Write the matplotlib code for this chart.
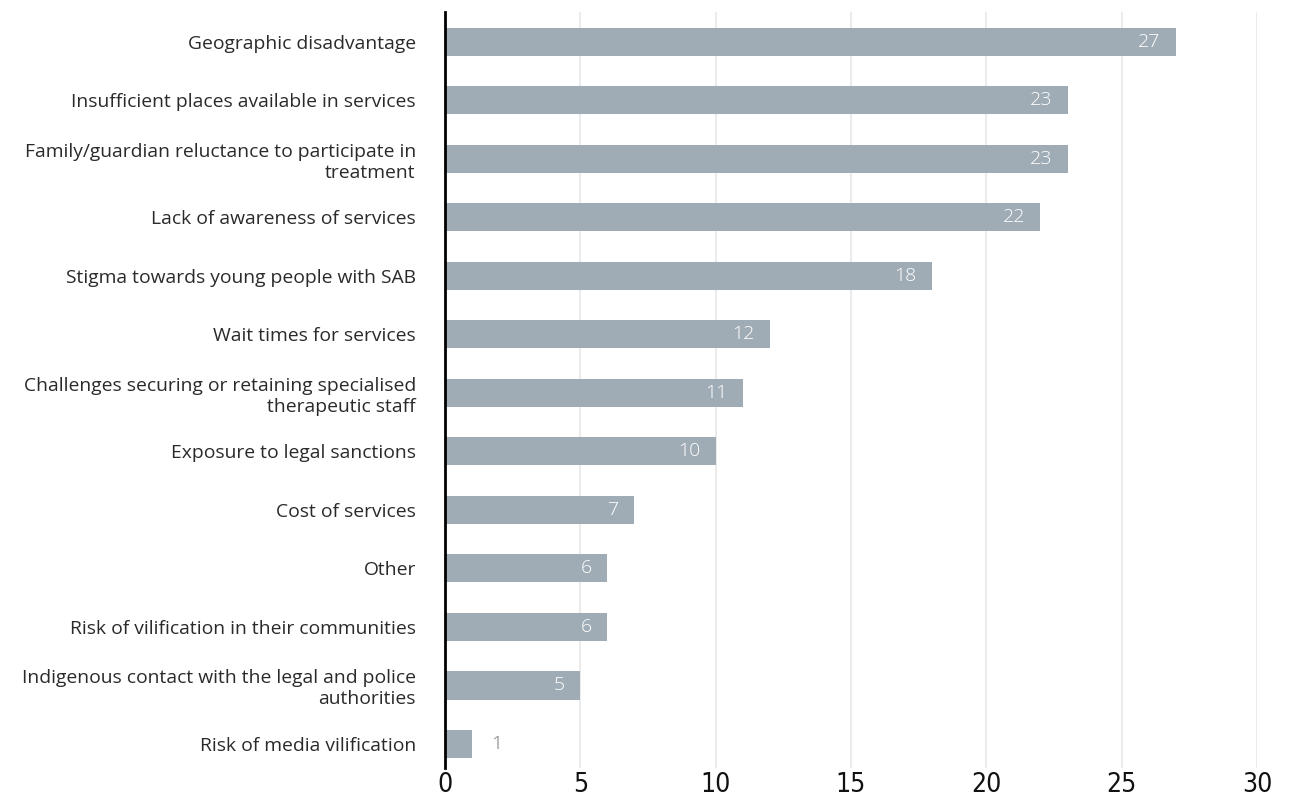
import matplotlib
matplotlib.use("Agg")
import matplotlib.pyplot as plt

categories = [
    "Geographic disadvantage",
    "Insufficient places available in services",
    "Family/guardian reluctance to participate in\ntreatment",
    "Lack of awareness of services",
    "Stigma towards young people with SAB",
    "Wait times for services",
    "Challenges securing or retaining specialised\ntherapeutic staff",
    "Exposure to legal sanctions",
    "Cost of services",
    "Other",
    "Risk of vilification in their communities",
    "Indigenous contact with the legal and police\nauthorities",
    "Risk of media vilification",
]
values = [27, 23, 23, 22, 18, 12, 11, 10, 7, 6, 6, 5, 1]
x_ticks = [0, 5, 10, 15, 20, 25, 30]

BAR_COLOR = "#A0ACB5"
GRID_COLOR = "#EBEBEB"
TEXT_COLOR = "#2a2a2a"

fig = plt.figure(figsize=(12.92, 8.09), dpi=100)
ax = fig.add_axes([0.3444, 0.0507, 0.6285, 0.9345])

pos = list(range(len(categories)))
ax.barh(pos, values, height=0.48, color=BAR_COLOR, zorder=2)

ax.set_xlim(0, 30)
ax.set_ylim(12.41, -0.51)
ax.set_xticks(x_ticks)
ax.set_xticklabels([str(t) for t in x_ticks], fontsize=19,
                   fontfamily="DejaVu Sans", fontstretch="condensed",
                   fontweight="light", color="#111111")
ax.set_yticks(pos)
ax.set_yticklabels(categories, fontsize=13.9, fontfamily="Open Sans",
                   color=TEXT_COLOR, linespacing=1.2)
ax.tick_params(axis="both", length=0)
ax.tick_params(axis="y", pad=21)
ax.tick_params(axis="x", pad=3)

ax.grid(axis="x", color=GRID_COLOR, linewidth=1.5, zorder=0)
ax.grid(axis="y", visible=False)
for side in ["top", "right", "bottom"]:
    ax.spines[side].set_visible(False)
ax.spines["left"].set_color("black")
ax.spines["left"].set_linewidth(2)
ax.spines["left"].set_zorder(3)

for p, v in zip(pos, values):
    if v >= 3:
        ax.annotate(str(v), xy=(v, p), xytext=(-11, 0), textcoords="offset points",
                    ha="right", va="center", fontsize=14, color="white",
                    fontfamily="Open Sans", fontweight="light", zorder=4)
    else:
        ax.annotate(str(v), xy=(v, p), xytext=(14, 0), textcoords="offset points",
                    ha="left", va="center", fontsize=14, color="#777777",
                    fontfamily="Open Sans", fontweight="light", zorder=4)

fig.savefig("out.png", dpi=100)
